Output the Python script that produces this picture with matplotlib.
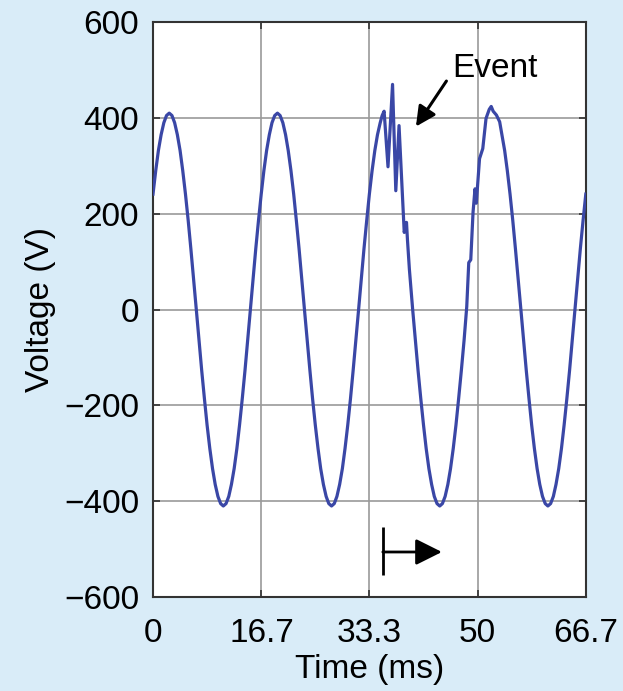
import matplotlib
matplotlib.use("Agg")
import matplotlib.pyplot as plt

plt.rcParams['font.family'] = ['Liberation Sans', 'DejaVu Sans']

# Time (ms) and voltage (V)
time_ms = [0.00, 0.42, 0.83, 1.25, 1.67, 2.08, 2.50, 2.92, 3.33, 3.75, 4.17, 4.58,
           5.00, 5.42, 5.83, 6.25, 6.67, 7.08, 7.50, 7.92, 8.33, 8.75, 9.17, 9.58,
           10.00, 10.42, 10.83, 11.25, 11.67, 12.08, 12.50, 12.92, 13.33, 13.75,
           14.17, 14.58, 15.00, 15.42, 15.83, 16.25,
           16.67, 17.08, 17.50, 17.92, 18.33, 18.75, 19.17, 19.58, 20.00, 20.42,
           20.83, 21.25, 21.67, 22.08, 22.50, 22.92, 23.33, 23.75, 24.17, 24.58,
           25.00, 25.42, 25.83, 26.25, 26.67, 27.08, 27.50, 27.92, 28.33, 28.75,
           29.17, 29.58, 30.00, 30.42, 30.83, 31.25, 31.67, 32.08, 32.50, 32.92,
           33.33, 33.75, 34.17, 34.58,
           35.00, 35.30, 35.60, 36.20, 36.90, 37.40, 37.90, 38.70, 39.05, 39.20, 39.50,
           40.00, 40.42, 40.83, 41.25, 41.67, 42.08, 42.50, 42.92, 43.33, 43.75,
           44.17, 44.58, 45.00, 45.42, 45.83, 46.25, 46.67, 47.08, 47.50, 47.92,
           48.33, 48.64, 48.95, 49.30, 49.60, 49.80, 50.30, 50.80, 51.30, 51.80,
           52.10, 52.40, 52.90, 53.40,
           53.75, 54.17, 54.58, 55.00, 55.42, 55.83, 56.25, 56.67, 57.08, 57.50,
           57.92, 58.33, 58.75, 59.17, 59.58, 60.00, 60.42, 60.83, 61.25, 61.67,
           62.08, 62.50, 62.92, 63.33, 63.75, 64.17, 64.58, 65.00, 65.42, 65.83,
           66.25, 66.67]
voltage_v = [241, 290, 332, 365, 390, 405, 410, 405, 390, 365, 332, 290,
             241, 186, 127, 64, 0, -64, -127, -186, -241, -290, -332, -365,
             -390, -405, -410, -405, -390, -365, -332, -290, -241, -186,
             -127, -64, 0, 64, 127, 186,
             241, 290, 332, 365, 390, 405, 410, 405, 390, 365,
             332, 290, 241, 186, 127, 64, 0, -64, -127, -186,
             -241, -290, -332, -365, -390, -405, -410, -405, -390, -365,
             -332, -290, -241, -186, -127, -64, 0, 64, 127, 186,
             241, 290, 332, 365,
             390, 405, 414, 298, 470, 248, 384, 161, 182, 145, 83,
             0, -64, -127, -186, -241, -290, -332, -365, -390, -405,
             -410, -405, -390, -365, -332, -290, -241, -186, -127, -64,
             6, 98, 104, 203, 252, 222, 315, 336, 399, 418,
             424, 414, 406, 392,
             365, 332, 290, 241, 186, 127, 64, 0, -64, -127,
             -186, -241, -290, -332, -365, -390, -405, -410, -405, -390,
             -365, -332, -290, -241, -186, -127, -64, 0, 64, 127,
             186, 241]

x_ticks = [0, 16.7, 33.3, 50, 66.7]
x_tick_labels = ['0', '16.7', '33.3', '50', '66.7']
y_ticks = [-600, -400, -200, 0, 200, 400, 600]
y_tick_labels = ['\u2212600', '\u2212400', '\u2212200', '0', '200', '400', '600']

bg = '#d9ecf8'
fs = 24
fig = plt.figure(figsize=(6.23, 6.91), dpi=100, facecolor=bg)
ax = fig.add_axes([0.2456, 0.136, 0.695, 0.832])
ax.set_facecolor('white')

ax.plot(time_ms, voltage_v, color='#3a47a6', lw=2.3, solid_joinstyle='round', zorder=3)

ax.set_xlim(0, 66.7)
ax.set_ylim(-600, 600)
ax.set_xticks(x_ticks)
ax.set_xticklabels(x_tick_labels)
ax.set_yticks(y_ticks)
ax.set_yticklabels(y_tick_labels)
ax.grid(True, color='#9a9a9a', lw=1.2)
ax.set_axisbelow(True)
ax.tick_params(direction='in', length=5, width=1.2, color='#333333',
               labelsize=fs, top=True, right=True)
ax.tick_params(axis='x', pad=15)
ax.tick_params(axis='y', pad=10)
for s in ax.spines.values():
    s.set_color('#333333')
    s.set_linewidth(1.5)

ax.set_xlabel('Time (ms)', fontsize=fs, labelpad=4)
ax.set_ylabel('Voltage (V)', fontsize=fs, labelpad=6)

# Event annotation
ax.text(52.6, 503, 'Event', fontsize=fs, ha='center', va='center')
ax.annotate('', xy=(40.5, 382), xytext=(45.2, 477),
            arrowprops=dict(arrowstyle='-|>', color='black', lw=2.2,
                            mutation_scale=30, shrinkA=0, shrinkB=0))

# Start marker (|->)
ax.plot([35.4, 35.4], [-453, -553], color='black', lw=2, solid_capstyle='butt')
ax.annotate('', xy=(44.5, -506), xytext=(35.4, -506),
            arrowprops=dict(arrowstyle='-|>', color='black', lw=2,
                            mutation_scale=40, shrinkA=0, shrinkB=0))

fig.savefig('out.png', dpi=100, facecolor=bg)
